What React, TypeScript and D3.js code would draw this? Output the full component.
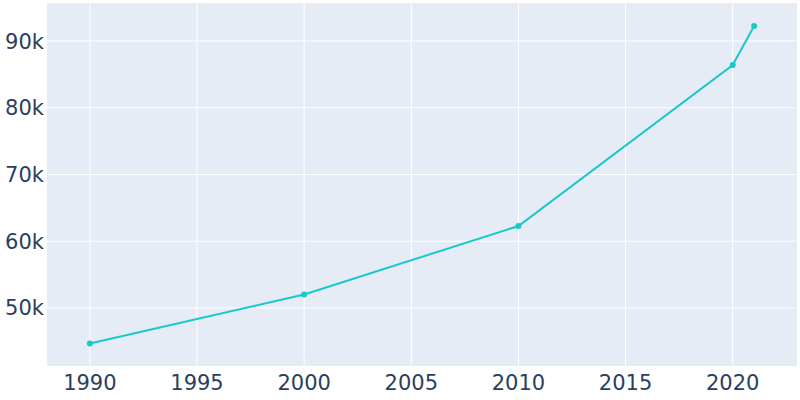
import React from "react";
import * as d3 from "d3";

const years = [1990, 2000, 2010, 2020, 2021];
const population = [44686, 52020, 62275, 86407, 92245];
const xTicks = [1990, 1995, 2000, 2005, 2010, 2015, 2020];
const yTicks = [50000, 60000, 70000, 80000, 90000];

const W = 800, H = 400;
const M = { left: 47, right: 3, top: 3, bottom: 34 };

export default function App() {
  const x = d3.scaleLinear().domain([1988, 2023]).range([M.left, W - M.right]);
  const y = d3.scaleLinear().domain([41300, 95690]).range([H - M.bottom, M.top]);
  const pts = years.map((yr, i) => [yr, population[i]] as [number, number]);
  const line = d3.line<[number, number]>().x(d => x(d[0])).y(d => y(d[1]));
  const font = "'DejaVu Sans', sans-serif";
  const color = "#17c9c9";
  return (
    <svg width={W} height={H} style={{ position: "absolute", left: 0, top: 0 }}>
      <rect x={M.left} y={M.top} width={W - M.left - M.right} height={H - M.top - M.bottom} fill="#e5ecf6" />
      {xTicks.map(t => (
        <line key={"gx" + t} x1={x(t)} x2={x(t)} y1={M.top} y2={H - M.bottom} stroke="#fff" strokeWidth={1} />
      ))}
      {yTicks.map(t => (
        <line key={"gy" + t} x1={M.left} x2={W - M.right} y1={y(t)} y2={y(t)} stroke="#fff" strokeWidth={1} />
      ))}
      <path d={line(pts) || ""} fill="none" stroke={color} strokeWidth={2} />
      {pts.map((p, i) => (
        <circle key={i} cx={x(p[0])} cy={y(p[1])} r={3} fill={color} />
      ))}
      {xTicks.map(t => (
        <text key={"tx" + t} x={x(t)} y={390} textAnchor="middle" fontFamily={font} fontSize={21} fill="#2a3f5f">{t}</text>
      ))}
      {yTicks.map(t => (
        <text key={"ty" + t} x={44} y={y(t)} dy="0.36em" textAnchor="end" fontFamily={font} fontSize={21} fill="#2a3f5f">{t / 1000 + "k"}</text>
      ))}
    </svg>
  );
}
